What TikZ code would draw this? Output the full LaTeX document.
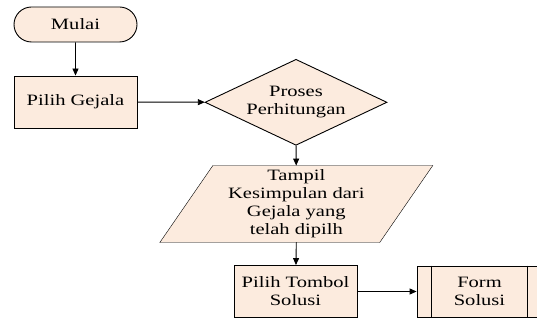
\documentclass[tikz,border=0pt]{standalone}
\usepackage{fontspec}
\setmainfont[FakeStretch=1.3]{Liberation Serif}
\usetikzlibrary{shapes, arrows, positioning, calc, arrows.meta, backgrounds}
\definecolor{peach}{RGB}{252,235,222}

\begin{document}
\begin{tikzpicture}[x=1pt, y=-1pt, ->, >={Triangle[length=7pt,width=6pt]}, line width=0.9pt,
    every node/.style={font=\fontsize{15.8}{17.9}\selectfont, align=center},
    box/.style={draw, fill=peach, minimum width=123pt, inner sep=0pt},
    terminal/.style={box, rounded rectangle, minimum height=35pt},
    process/.style={box, rectangle, minimum height=52pt},
    decision/.style={box, diamond, aspect=2.12, minimum width=182pt, minimum height=86pt},
    io/.style={rectangle, minimum width=219pt, minimum height=76pt, inner sep=0pt},
    predef/.style={box, rectangle, minimum width=125pt, minimum height=51pt}]
    \useasboundingbox (0,0) rectangle (537,320);

    \node[terminal] (mulai) at (75.5,24.5) {Mulai};
    \node[process] (gejala) at (75.5,102) {Pilih Gejala};
    \node[decision] (proses) at (296,102.3) {Proses\\Perhitungan};
    \node[io] (tampil) at (296.3,204) {Tampil\\Kesimpulan dari\\Gejala yang\\telah dipilh};
    \node[process] (tombol) at (295.5,291.5) {Pilih Tombol\\Solusi};
    \node[predef] (form) at (479.5,291.5) {Form\\Solusi};

    % parallelogram behind the text
    \begin{scope}[on background layer]
        \draw[-, fill=peach] ($(tampil.north west)+(26.5,0)$) -- ($(tampil.north east)+(26.5,0)$)
            -- ($(tampil.south east)+(-26.5,0)$) -- ($(tampil.south west)+(-26.5,0)$) -- cycle;
    \end{scope}
    \draw[-] ($(form.north west)+(15,0)$) -- ($(form.south west)+(15,0)$);
    \draw[-] ($(form.north east)+(-15,0)$) -- ($(form.south east)+(-15,0)$);

    \draw (mulai) -- (gejala);
    \draw (gejala) -- (proses);
    \draw (proses) -- (tampil);
    \draw (tampil.south) -- (tombol);
    \draw (tombol) -- (form);
\end{tikzpicture}
\end{document}
